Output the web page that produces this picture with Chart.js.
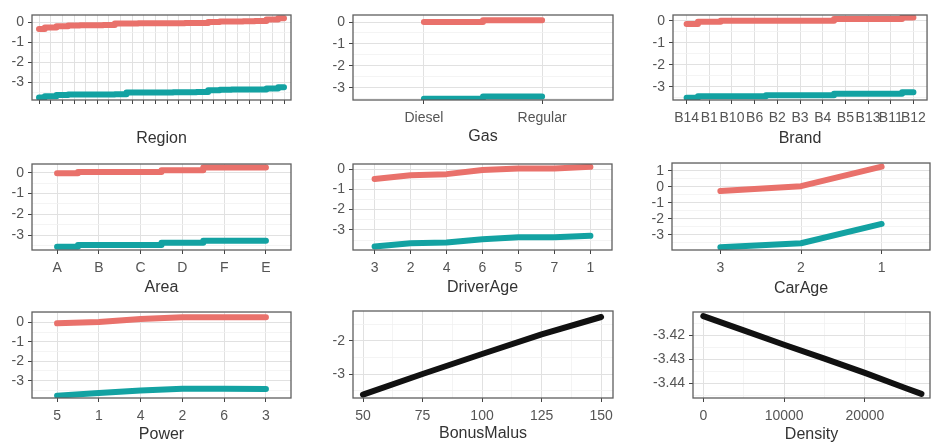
<!DOCTYPE html>
<html>
<head>
<meta charset="utf-8">
<script src="https://cdn.jsdelivr.net/npm/chart.js@4.4.1/dist/chart.umd.min.js"></script>
<style>
  html, body { margin: 0; padding: 0; background: #fff; }
  #grid { position: relative; width: 932px; height: 444px; overflow: hidden; }
  #grid canvas { position: absolute; }
</style>
</head>
<body>
<div id="grid">
  <canvas id="cRegion" width="310" height="150" style="left:0;top:0"></canvas>
  <canvas id="cGas" width="310" height="150" style="left:310px;top:0"></canvas>
  <canvas id="cBrand" width="312" height="150" style="left:620px;top:0"></canvas>
  <canvas id="cArea" width="310" height="148" style="left:0;top:150px"></canvas>
  <canvas id="cDriverAge" width="310" height="148" style="left:310px;top:150px"></canvas>
  <canvas id="cCarAge" width="312" height="148" style="left:620px;top:150px"></canvas>
  <canvas id="cPower" width="310" height="146" style="left:0;top:298px"></canvas>
  <canvas id="cBonusMalus" width="310" height="146" style="left:310px;top:298px"></canvas>
  <canvas id="cDensity" width="312" height="146" style="left:620px;top:298px"></canvas>
</div>
<script>
(function() {
    'use strict';

    // --- Data ---
    const regionCats = ['R11', 'R21', 'R22', 'R23', 'R24', 'R25', 'R26', 'R31', 'R41', 'R42', 'R43',
                        'R52', 'R53', 'R54', 'R72', 'R73', 'R74', 'R82', 'R83', 'R91', 'R93', 'R94'];
    const regionRed = [-0.32, -0.25, -0.18, -0.14, -0.13, -0.13, -0.12, -0.05, -0.04, -0.03, -0.03,
                       -0.03, -0.03, -0.02, -0.02, 0.03, 0.05, 0.06, 0.07, 0.08, 0.15, 0.22];
    const regionTeal = [-3.75, -3.68, -3.62, -3.6, -3.6, -3.6, -3.6, -3.58, -3.5, -3.5, -3.49,
                        -3.49, -3.48, -3.48, -3.47, -3.38, -3.36, -3.35, -3.35, -3.34, -3.3, -3.23];

    const gasCats = ['Diesel', 'Regular'];
    const gasRed = [0.0, 0.08];
    const gasTeal = [-3.5, -3.4];

    const brandCats = ['B14', 'B1', 'B10', 'B6', 'B2', 'B3', 'B4', 'B5', 'B13', 'B11', 'B12'];
    const brandRed = [-0.15, -0.05, 0.0, 0.0, 0.0, 0.0, 0.0, 0.08, 0.08, 0.08, 0.15];
    const brandTeal = [-3.5, -3.43, -3.43, -3.43, -3.38, -3.38, -3.38, -3.32, -3.32, -3.32, -3.25];

    const areaCats = ['A', 'B', 'C', 'D', 'F', 'E'];
    const areaRed = [-0.03, 0.03, 0.03, 0.12, 0.25, 0.25];
    const areaTeal = [-3.56, -3.48, -3.48, -3.37, -3.27, -3.27];

    const driverAgeCats = ['3', '2', '4', '6', '5', '7', '1'];
    const driverAgeRed = [-0.49, -0.3, -0.25, -0.05, 0.03, 0.03, 0.11];
    const driverAgeTeal = [-3.82, -3.66, -3.62, -3.46, -3.36, -3.36, -3.29];

    const carAgeCats = ['3', '2', '1'];
    const carAgeRed = [-0.25, 0.05, 1.27];
    const carAgeTeal = [-3.77, -3.52, -2.31];

    const powerCats = ['5', '1', '4', '2', '6', '3'];
    const powerRed = [-0.05, 0.02, 0.17, 0.26, 0.26, 0.26];
    const powerTeal = [-3.77, -3.63, -3.51, -3.42, -3.42, -3.43];

    const bonusMalusX = [50, 75, 100, 125, 150];
    const bonusMalusY = [-3.62, -3.0, -2.4, -1.81, -1.29];

    const densityX = [0, 5000, 10000, 15000, 20000, 25000, 27000];
    const densityY = [-3.4119, -3.4179, -3.4239, -3.4297, -3.4357, -3.4420, -3.4445];

    // --- Styles ---
    const RED = '#E9716B';
    const TEAL = '#13A2A2';
    const BLACK = '#111111';
    const FONT = 'Liberation Sans, Arial, sans-serif';
    const tickFont = { family: FONT, size: 14 };

    const isMajor = (v, major) => Math.abs(v / major - Math.round(v / major)) < 1e-6;

    // tick values every `step` inside [min, max]
    const tickValues = (min, max, step) => {
        const out = [];
        for (let k = Math.ceil(min / step - 1e-9); k * step <= max + 1e-9; k++) {
            out.push({ value: parseFloat((k * step).toFixed(8)) });
        }
        return out;
    };

    const borderPlugin = {
        id: 'panelBorder',
        afterDatasetsDraw(chart) {
            const { ctx, chartArea: a } = chart;
            ctx.save();
            ctx.strokeStyle = '#5f5f5f';
            ctx.lineWidth = 1.3;
            ctx.strokeRect(a.left, a.top, a.right - a.left, a.bottom - a.top);
            ctx.restore();
        }
    };

    const catSeries = (values) => values.map((y, i) => ({ x: i, y }));
    const xySeries = (xs, ys) => xs.map((x, i) => ({ x, y: ys[i] }));

    const lineDs = (data, color, stepped) => ({
        data, borderColor: color, borderWidth: 6, pointRadius: 0,
        borderCapStyle: 'round', borderJoinStyle: 'round', stepped: stepped || false, fill: false
    });

    function gridOpts(major) {
        return {
            offset: false,
            color: c => isMajor(c.tick.value, major) ? '#e1e1e1' : '#f1f1f1',
            lineWidth: c => isMajor(c.tick.value, major) ? 1 : 0.8,
            tickColor: c => isMajor(c.tick.value, major) ? '#444' : 'rgba(0,0,0,0)',
            tickLength: 4
        };
    }

    function drawPanel(p) {
        const W = p.W, H = p.H;
        const xCfg = p.cats
            ? { min: -0.6, max: p.cats.length - 1 + 0.6, major: 1, step: 1, label: v => p.cats[Math.round(v)] || '' }
            : { min: p.xMin, max: p.xMax, major: p.xMajor, step: p.xMajor / 2, label: v => isMajor(v, p.xMajor) ? String(Math.round(v)) : '' };

        new Chart(document.getElementById(p.id).getContext('2d'), {
            type: 'line',
            data: { datasets: p.datasets },
            options: {
                responsive: false, animation: false, events: [],
                layout: { padding: { left: 0, top: p.top, right: W - p.right, bottom: 0 } },
                plugins: { legend: { display: false }, tooltip: { enabled: false } },
                scales: {
                    x: {
                        type: 'linear', min: xCfg.min, max: xCfg.max,
                        afterBuildTicks: s => { s.ticks = tickValues(xCfg.min, xCfg.max, xCfg.step); },
                        afterFit: s => { s.height = H - p.bottom; },
                        grid: gridOpts(xCfg.major),
                        border: { display: false },
                        ticks: {
                            display: p.showX !== false, autoSkip: false, maxRotation: 0, minRotation: 0, padding: 6,
                            color: '#555', font: tickFont, callback: xCfg.label
                        },
                        title: {
                            display: true, text: p.title, color: '#333',
                            font: { family: FONT, size: 16, lineHeight: 1 },
                            padding: { top: 0, bottom: H - p.titleY - 8 }
                        }
                    },
                    y: {
                        min: p.yMin, max: p.yMax,
                        afterBuildTicks: s => { s.ticks = tickValues(p.yMin, p.yMax, p.yMajor / 2); },
                        afterFit: s => { s.width = p.left; },
                        grid: gridOpts(p.yMajor),
                        border: { display: false },
                        ticks: {
                            autoSkip: false, padding: 4, color: '#555', font: tickFont,
                            callback: v => isMajor(v, p.yMajor) ? v.toFixed(p.yDec || 0) : ''
                        }
                    }
                }
            },
            plugins: [borderPlugin]
        });
    }

    const panels = [
        { id: 'cRegion', title: 'Region', cats: regionCats, showX: false,
          datasets: [lineDs(catSeries(regionRed), RED, 'middle'), lineDs(catSeries(regionTeal), TEAL, 'middle')],
          W: 310, H: 150, left: 32, top: 15, right: 291, bottom: 100, titleY: 139, yMin: -3.87, yMax: 0.38, yMajor: 1 },
        { id: 'cGas', title: 'Gas', cats: gasCats,
          datasets: [lineDs(catSeries(gasRed), RED, 'middle'), lineDs(catSeries(gasTeal), TEAL, 'middle')],
          W: 310, H: 150, left: 43, top: 15, right: 303, bottom: 100, titleY: 137, yMin: -3.56, yMax: 0.32, yMajor: 1 },
        { id: 'cBrand', title: 'Brand', cats: brandCats,
          datasets: [lineDs(catSeries(brandRed), RED, 'middle'), lineDs(catSeries(brandTeal), TEAL, 'middle')],
          W: 312, H: 150, left: 53, top: 15, right: 310, bottom: 100, titleY: 139, yMin: -3.6, yMax: 0.26, yMajor: 1 },
        { id: 'cArea', title: 'Area', cats: areaCats,
          datasets: [lineDs(catSeries(areaRed), RED, 'middle'), lineDs(catSeries(areaTeal), TEAL, 'middle')],
          W: 310, H: 148, left: 32, top: 14, right: 291, bottom: 100, titleY: 138, yMin: -3.72, yMax: 0.42, yMajor: 1 },
        { id: 'cDriverAge', title: 'DriverAge', cats: driverAgeCats,
          datasets: [lineDs(catSeries(driverAgeRed), RED), lineDs(catSeries(driverAgeTeal), TEAL)],
          W: 310, H: 148, left: 43, top: 14, right: 302, bottom: 100, titleY: 138, yMin: -3.99, yMax: 0.25, yMajor: 1 },
        { id: 'cCarAge', title: 'CarAge', cats: carAgeCats,
          datasets: [lineDs(catSeries(carAgeRed), RED), lineDs(catSeries(carAgeTeal), TEAL)],
          W: 312, H: 148, left: 52, top: 13, right: 310, bottom: 100, titleY: 139, yMin: -3.94, yMax: 1.5, yMajor: 1 },
        { id: 'cPower', title: 'Power', cats: powerCats,
          datasets: [lineDs(catSeries(powerRed), RED), lineDs(catSeries(powerTeal), TEAL)],
          W: 310, H: 146, left: 32, top: 14, right: 291, bottom: 100, titleY: 137, yMin: -3.89, yMax: 0.53, yMajor: 1 },
        { id: 'cBonusMalus', title: 'BonusMalus', xMin: 45.8, xMax: 155, xMajor: 25,
          datasets: [lineDs(xySeries(bonusMalusX, bonusMalusY), BLACK)],
          W: 310, H: 146, left: 43, top: 13, right: 303, bottom: 100, titleY: 136, yMin: -3.72, yMax: -1.11, yMajor: 1 },
        { id: 'cDensity', title: 'Density', xMin: -1275, xMax: 28060, xMajor: 10000,
          datasets: [lineDs(xySeries(densityX, densityY), BLACK)],
          W: 312, H: 146, left: 73, top: 14, right: 310, bottom: 100, titleY: 137, yMin: -3.4462, yMax: -3.4102, yMajor: 0.01, yDec: 2 }
    ];

    panels.forEach(drawPanel);
})();
</script>
</body>
</html>
